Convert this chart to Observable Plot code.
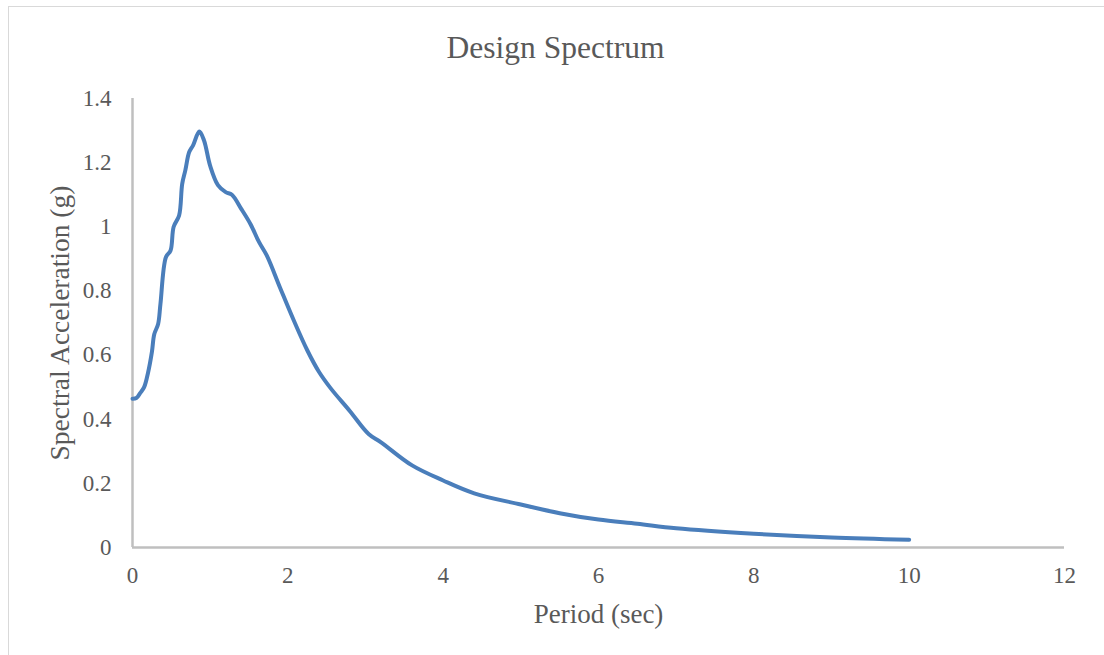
<!DOCTYPE html>
<html>
<head>
<meta charset="utf-8">
<script src="https://cdn.jsdelivr.net/npm/d3@7"></script>
<script src="https://cdn.jsdelivr.net/npm/@observablehq/plot@0.6"></script>
<style>
  html, body { margin: 0; padding: 0; background: #fff; }
  #wrap { position: relative; width: 1104px; height: 655px; overflow: hidden; font-family: "Liberation Serif", "Times New Roman", serif; }
  #wrap svg { position: absolute; left: 0; top: 0; }
  #frame { position: absolute; left: 8px; top: 6px; width: 1300px; height: 900px; border: 1.5px solid #d9d9d9; pointer-events: none; }
</style>
</head>
<body>
<div id="wrap"><div id="frame"></div></div>
<script>
const chartTitle = "Design Spectrum";
const xTitle = "Period (sec)";
const yTitle = "Spectral Acceleration (g)";

const period = [0, 0.05, 0.1, 0.15, 0.2, 0.25, 0.28, 0.33, 0.36, 0.43, 0.49, 0.53, 0.6, 0.64, 0.68, 0.73, 0.78, 0.86, 0.92, 1.0, 1.1, 1.2, 1.28, 1.4, 1.52, 1.63, 1.73, 1.9, 2.08, 2.25, 2.4, 2.55, 2.8, 3.04, 3.2, 3.6, 4.0, 4.4, 5.0, 5.5, 6.0, 6.5, 7.0, 8.0, 9.0, 10.0];
const spectralAcc = [0.464, 0.466, 0.482, 0.50, 0.545, 0.61, 0.665, 0.697, 0.76, 0.905, 0.926, 1.0, 1.035, 1.134, 1.176, 1.233, 1.254, 1.297, 1.27, 1.19, 1.13, 1.108, 1.10, 1.056, 1.008, 0.952, 0.91, 0.81, 0.706, 0.615, 0.548, 0.497, 0.425, 0.354, 0.328, 0.256, 0.209, 0.169, 0.134, 0.107, 0.087, 0.074, 0.060, 0.043, 0.031, 0.024];

const xTicks = [0, 2, 4, 6, 8, 10, 12];
const yTicks = [0, 0.2, 0.4, 0.6, 0.8, 1, 1.2, 1.4];
const yTickLabels = ["0", "0.2", "0.4", "0.6", "0.8", "1", "1.2", "1.4"];

const data = period.map((p, i) => ({period: p, sa: spectralAcc[i]}));

const textColor = "#595959";
const axisColor = "#bfbfbf";

const chart = Plot.plot({
  width: 1104,
  height: 655,
  marginLeft: 132,
  marginRight: 40,
  marginTop: 98,
  marginBottom: 108,
  style: {background: "transparent", fontFamily: "'Liberation Serif', 'Times New Roman', serif", color: textColor, overflow: "visible"},
  x: {domain: [0, 12]},
  y: {domain: [0, 1.4]},
  marks: [
    Plot.ruleY([0], {stroke: axisColor, strokeWidth: 2.5}),
    Plot.ruleX([0], {stroke: axisColor, strokeWidth: 2.5}),
    Plot.axisX(xTicks, {tickSize: 0, tickPadding: 19, fontSize: 23, fill: textColor, label: null}),
    Plot.axisY(yTicks, {tickSize: 0, tickPadding: 21, fontSize: 23, fill: textColor, label: null, tickFormat: (d, i) => yTickLabels[i]}),
    Plot.line(data, {x: "period", y: "sa", stroke: "#4a7ebb", strokeWidth: 4, curve: "catmull-rom", strokeLinecap: "round", strokeLinejoin: "round"}),
    Plot.text([chartTitle], {frameAnchor: "top", textAnchor: "middle", lineAnchor: "bottom", dy: -41, dx: -43, fontSize: 31.5, fill: textColor}),
    Plot.text([xTitle], {frameAnchor: "bottom", textAnchor: "middle", lineAnchor: "bottom", dy: 75, fontSize: 27, fill: textColor}),
    Plot.text([yTitle], {frameAnchor: "left", textAnchor: "middle", lineAnchor: "bottom", rotate: -90, dx: -64, fontSize: 27.5, fill: textColor})
  ]
});

document.getElementById("wrap").insertBefore(chart, document.getElementById("frame"));
</script>
</body>
</html>
